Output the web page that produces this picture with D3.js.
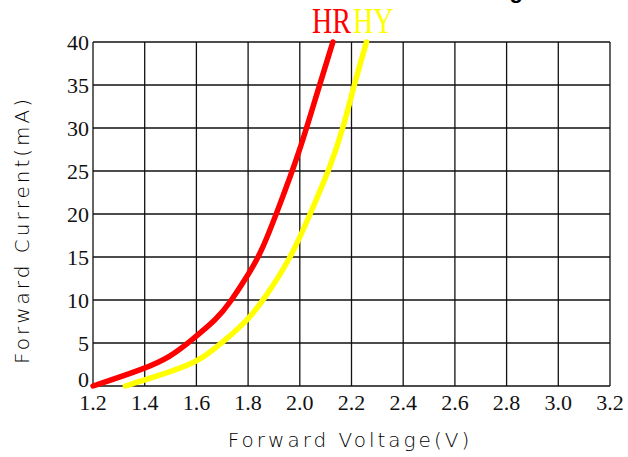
<!DOCTYPE html>
<html>
<head>
<meta charset="utf-8">
<script src="https://cdn.jsdelivr.net/npm/d3@7"></script>
<style>
  body { margin: 0; background: #fff; }
  svg { display: block; }
</style>
</head>
<body>
<svg width="628" height="457"></svg>
<script>
// I-V curves
const hrVolt = [1.2, 1.4, 1.5, 1.58, 1.68, 1.73, 1.8, 1.852, 1.913, 2.0, 2.066, 2.128];
const hrCurr = [0, 2.0, 3.4, 5.3, 7.8, 9.7, 12.9, 15.6, 20.3, 27.3, 34, 40];
const hyVolt = [1.325, 1.525, 1.615, 1.706, 1.8, 1.86, 1.968, 2.04, 2.119, 2.17, 2.212, 2.258];
const hyCurr = [0, 1.9, 3.0, 5.2, 7.7, 10, 15, 20, 25.5, 30.2, 35.2, 40];
const xTicks = [1.2, 1.4, 1.6, 1.8, 2.0, 2.2, 2.4, 2.6, 2.8, 3.0, 3.2];
const yTicks = [0, 5, 10, 15, 20, 25, 30, 35, 40];

const svg = d3.select("svg");
const margin = { top: 42, left: 93, right: 18, bottom: 71 };
const width = +svg.attr("width");
const height = +svg.attr("height");

const x = d3.scaleLinear().domain([1.2, 3.2]).range([margin.left, width - margin.right]);
const y = d3.scaleLinear().domain([0, 40]).range([height - margin.bottom, margin.top]);

// grid
const grid = svg.append("g").attr("stroke", "#111").attr("stroke-width", 1.3);
grid.selectAll("line.v")
    .data(xTicks)
    .enter().append("line")
    .attr("x1", d => x(d)).attr("x2", d => x(d))
    .attr("y1", y(0)).attr("y2", y(40));
grid.selectAll("line.h")
    .data(yTicks)
    .enter().append("line")
    .attr("y1", d => y(d)).attr("y2", d => y(d))
    .attr("x1", x(1.2)).attr("x2", x(3.2));

// tick labels
const tickFont = "'Liberation Serif', 'DejaVu Serif', serif";
svg.append("g")
    .selectAll("text")
    .data(xTicks)
    .enter().append("text")
    .attr("x", d => x(d))
    .attr("y", y(0) + 24)
    .attr("text-anchor", "middle")
    .attr("font-family", tickFont)
    .attr("font-size", 22)
    .attr("fill", "#111")
    .text(d => d.toFixed(1));

svg.append("g")
    .selectAll("text")
    .data(yTicks)
    .enter().append("text")
    .attr("x", x(1.2) - 4)
    .attr("y", d => d === 0 ? y(d) - 7 : y(d))
    .attr("dy", "0.35em")
    .attr("text-anchor", "end")
    .attr("font-family", tickFont)
    .attr("font-size", 22)
    .attr("fill", "#111")
    .text(d => d);

// axis titles
const titleFont = "'DejaVu Sans', sans-serif";
svg.append("text")
    .attr("x", 350)
    .attr("y", 447)
    .attr("text-anchor", "middle")
    .attr("font-family", titleFont)
    .attr("font-weight", 300)
    .attr("font-size", 20)
    .attr("letter-spacing", 3)
    .attr("fill", "#000")
    .text("Forward Voltage(V)");

svg.append("text")
    .attr("transform", "translate(29,230) rotate(-90)")
    .attr("text-anchor", "middle")
    .attr("font-family", titleFont)
    .attr("font-weight", 300)
    .attr("font-size", 20)
    .attr("letter-spacing", 3)
    .attr("fill", "#000")
    .text("Forward Current(mA)");

// cut-off heading at the very top
svg.append("text")
    .attr("x", 523)
    .attr("y", -2)
    .attr("text-anchor", "end")
    .attr("font-family", "'Liberation Sans', Arial, sans-serif")
    .attr("font-weight", "bold")
    .attr("font-size", 22)
    .attr("fill", "#000")
    .text("Forward Current Derating");

// curves
const line = d3.line()
    .x(d => x(d[0]))
    .y(d => y(d[1]))
    .curve(d3.curveBasis);

const series = [
    { name: "HR", color: "#ff0000", lx: 312, pts: d3.zip(hrVolt, hrCurr) },
    { name: "HY", color: "#ffff00", lx: 353, pts: d3.zip(hyVolt, hyCurr) }
];

svg.append("g")
    .selectAll("path")
    .data(series)
    .enter().append("path")
    .attr("d", d => line(d.pts))
    .attr("fill", "none")
    .attr("stroke", d => d.color)
    .attr("stroke-width", 5.5)
    .attr("stroke-linecap", "round");

// legend labels above the plot (tall, narrow serif)
svg.append("g")
    .selectAll("text")
    .data(series)
    .enter().append("text")
    .attr("transform", d => `translate(${d.lx},33) scale(1,1.25)`)
    .attr("font-family", tickFont)
    .attr("font-size", 28)
    .attr("fill", d => d.color)
    .text(d => d.name);
</script>
</body>
</html>
